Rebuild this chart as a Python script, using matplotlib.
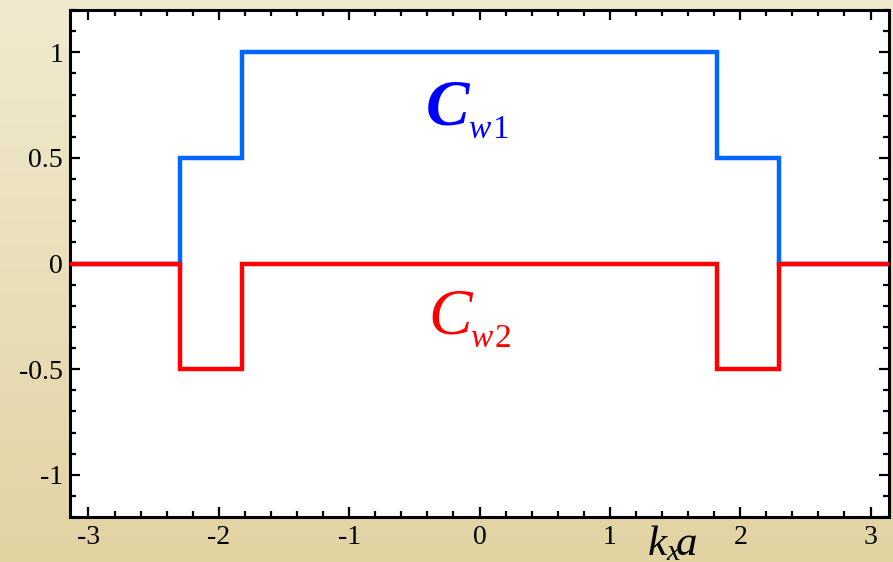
"""Step profiles of the two window coefficients across the Brillouin zone."""

import numpy as np
import matplotlib.pyplot as plt
from matplotlib.ticker import MultipleLocator, FuncFormatter

plt.rcParams["font.family"] = ["Liberation Serif", "DejaVu Serif"]
plt.rcParams["axes.unicode_minus"] = False
plt.rcParams["mathtext.fontset"] = "custom"
plt.rcParams["mathtext.it"] = "Liberation Serif:italic"
plt.rcParams["mathtext.rm"] = "Liberation Serif"

# band edges in k_x a and the step values in between
k_edges = [-np.pi, -2.30, -1.82, 1.82, 2.30, np.pi]
cw1 = [0.0, 0.5, 1.0, 0.5, 0.0]
cw2 = [0.0, -0.5, 0.0, -0.5, 0.0]

x_ticks = [-3, -2, -1, 0, 1, 2, 3]
y_ticks = [-1, -0.5, 0, 0.5, 1]

fig = plt.figure(figsize=(8.93, 5.62), dpi=100)

# warm paper-coloured backdrop
bg = fig.add_axes([0, 0, 1, 1], zorder=-1)
top = np.array([241, 234, 207]) / 255
bottom = np.array([226, 211, 163]) / 255
t = np.linspace(0, 1, 256)[:, None, None]
grad = top * (1 - t) + bottom * t
bg.imshow(np.repeat(grad, 4, axis=1), aspect="auto", extent=[0, 1, 0, 1])
bg.set_axis_off()

ax = fig.add_axes([70 / 893, 0.080, 819 / 893, 0.902])
ax.set_facecolor("white")

ax.stairs(cw1, k_edges, baseline=None, color="#0066ff", linewidth=3.2, zorder=2)
ax.stairs(cw2, k_edges, baseline=None, color="#ff0000", linewidth=3.2, zorder=3)

ax.set_xlim(-np.pi, np.pi)
ax.set_ylim(-1.2, 1.2)
ax.set_xticks(x_ticks)
ax.set_yticks(y_ticks)
ax.xaxis.set_minor_locator(MultipleLocator(0.2))
ax.yaxis.set_minor_locator(MultipleLocator(0.1))
ax.yaxis.set_major_formatter(FuncFormatter(lambda v, _: f"{v:g}"))
ax.xaxis.set_major_formatter(FuncFormatter(lambda v, _: f"{v:g}"))

ax.tick_params(which="both", direction="in", top=True, right=True,
               width=1.6, colors="black", labelsize=20)
ax.tick_params(which="major", length=7)
ax.tick_params(which="minor", length=4.5)
ax.tick_params(axis="y", pad=5)
ax.tick_params(axis="x", pad=6)
for s in ax.spines.values():
    s.set_linewidth(2.2)

# curve labels: big C with a smaller w-index beside it
ax.text(-0.41, 0.66, "C", color="#0000ff", fontsize=47, fontstyle="italic",
        fontweight="bold", va="baseline", ha="left")
ax.text(-0.085, 0.594, "w", color="#0000ff", fontsize=24, fontstyle="italic",
        va="baseline", ha="left")
ax.text(0.095, 0.594, "1", color="#0000ff", fontsize=24, va="baseline", ha="left")

ax.text(-0.39, -0.33, "C", color="#ff0000", fontsize=47, fontstyle="italic",
        va="baseline", ha="left")
ax.text(-0.07, -0.396, "w", color="#ff0000", fontsize=24, fontstyle="italic",
        va="baseline", ha="left")
ax.text(0.115, -0.396, "2", color="#ff0000", fontsize=24, va="baseline", ha="left")

ax.text(0.705, -0.075, r"$k_x\!a$", transform=ax.transAxes, fontsize=31,
        va="baseline", ha="left")

fig.savefig("out.png", dpi=100)
